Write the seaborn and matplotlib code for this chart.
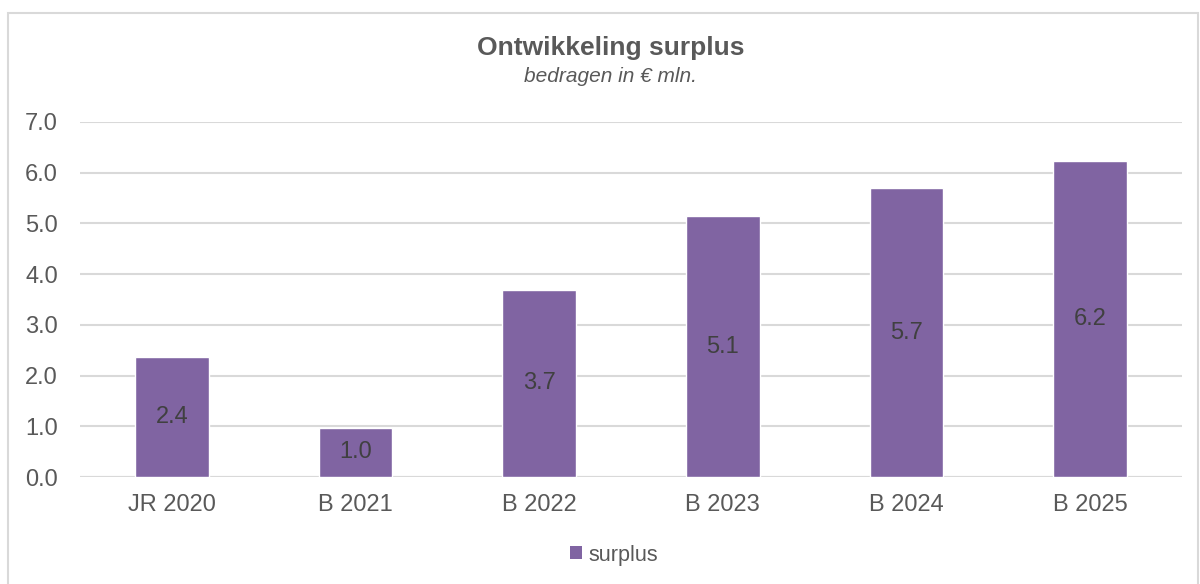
import matplotlib
matplotlib.use("Agg")
import matplotlib.pyplot as plt
import seaborn as sns
import pandas as pd
from matplotlib.patches import Rectangle, Patch

categories = ["JR 2020", "B 2021", "B 2022", "B 2023", "B 2024", "B 2025"]
surplus = [2.37, 0.97, 3.69, 5.14, 5.69, 6.23]
yticks = [0.0, 1.0, 2.0, 3.0, 4.0, 5.0, 6.0, 7.0]

sns.set_theme(style="white")
plt.rcParams['font.family'] = ['Liberation Sans', 'DejaVu Sans']

df = pd.DataFrame({"cat": categories, "surplus": surplus})
fig = plt.figure(figsize=(12, 5.84), dpi=100)
ax = fig.add_axes([80/1200, (584-477)/584, 1102/1200, 355/584])

color = "#8064A2"
sns.barplot(data=df, x="cat", y="surplus", color=color, width=0.4, ax=ax,
            saturation=1, zorder=3)

ax.set_ylim(0, 7)
ax.set_yticks(yticks)
ax.set_yticklabels([f"{v:.1f}" for v in yticks])
ax.yaxis.grid(True, color="#D9D9D9", linewidth=1.5, zorder=0)
ax.xaxis.grid(False)
for s in ax.spines.values():
    s.set_visible(False)
ax.axhline(0, color="#D9D9D9", linewidth=1.5, zorder=1)
ax.set_xlabel("")
ax.set_ylabel("")
ax.tick_params(axis="both", length=0, labelsize=17, colors="#595959")
ax.tick_params(axis="y", pad=16)
ax.tick_params(axis="x", pad=12)
ax.set_xlim(-0.5, len(categories) - 0.5)

for container in ax.containers:
    ax.bar_label(container, labels=[f"{v:.1f}" for v in surplus],
                 label_type="center", fontsize=17, color="#404040")

fig.text(611/1200, 1 - 48/584, "Ontwikkeling surplus", ha="center", va="center",
         fontsize=19, fontweight="bold", color="#595959")
fig.text(610/1200, 1 - 76/584, "bedragen in € mln.", ha="center", va="center",
         fontsize=15, fontstyle="italic", color="#595959")

handles = [Patch(facecolor=color, edgecolor="none", label="surplus")]
fig.legend(handles=handles, loc="center", bbox_to_anchor=(614/1200, 1 - 555/584),
           frameon=False, fontsize=15.5, handlelength=0.55, handleheight=0.55,
           handletextpad=0.3, labelcolor="#595959")

fig.patches.append(Rectangle((8/1200, -0.05), 1190/1200, 1 - 13/584 + 0.05,
                             transform=fig.transFigure, fill=False,
                             edgecolor="#D9D9D9", linewidth=1.5))

fig.savefig("out.png", dpi=100, facecolor="white")
